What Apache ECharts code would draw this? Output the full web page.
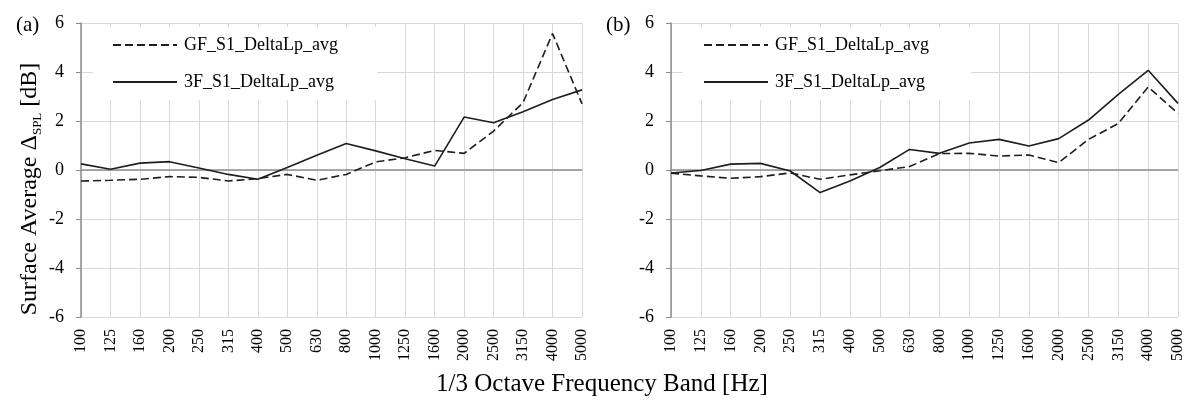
<!DOCTYPE html>
<html>
<head>
<meta charset="utf-8">
<script src="https://cdn.jsdelivr.net/npm/echarts@6/dist/echarts.min.js"></script>
<style>
  html, body { margin: 0; padding: 0; background: #fff; }
  #chart { width: 1197px; height: 402px; }
</style>
</head>
<body>
<div id="chart"></div>
<script>
// 1/3 octave bands
const bands = ["100", "125", "160", "200", "250", "315", "400", "500", "630", "800",
  "1000", "1250", "1600", "2000", "2500", "3150", "4000", "5000"];

// (a)
const aGF = [-0.45, -0.42, -0.38, -0.27, -0.3, -0.45, -0.35, -0.18, -0.42, -0.18,
  0.33, 0.5, 0.8, 0.68, 1.59, 2.75, 5.57, 2.7];
const a3F = [0.25, 0.03, 0.28, 0.34, 0.08, -0.18, -0.38, 0.1, 0.6, 1.08,
  0.78, 0.46, 0.16, 2.16, 1.93, 2.38, 2.88, 3.27];

// (b)
const bGF = [-0.13, -0.24, -0.34, -0.27, -0.12, -0.38, -0.2, -0.03, 0.14, 0.67,
  0.68, 0.57, 0.61, 0.3, 1.25, 1.9, 3.39, 2.31];
const b3F = [-0.12, -0.02, 0.24, 0.27, -0.04, -0.92, -0.45, 0.1, 0.84, 0.68,
  1.1, 1.25, 0.98, 1.28, 2.04, 3.09, 4.07, 2.72];

const seriesNames = ["GF_S1_DeltaLp_avg", "3F_S1_DeltaLp_avg"];
const yTicks = { min: -6, max: 6, interval: 2 };

const FONT = "Liberation Serif";
const INK = "#1e1e1e";
const GRIDC = "#d9d9d9";
const AXISC = "#8c8c8c";

let chart = echarts.init(document.getElementById("chart"));

function makeX(idx) {
  return {
    type: "category",
    gridIndex: idx,
    data: bands,
    boundaryGap: false,
    axisLine: { show: false },
    axisTick: { show: false },
    splitLine: { show: true, interval: 0, lineStyle: { color: GRIDC, width: 1 } },
    axisLabel: {
      interval: 0, rotate: 90, margin: 12,
      fontFamily: FONT, fontSize: 16, color: "#000",
    },
  };
}

function makeY(idx) {
  return {
    type: "value",
    gridIndex: idx,
    min: yTicks.min, max: yTicks.max, interval: yTicks.interval,
    axisLine: { show: true, lineStyle: { color: AXISC, width: 1.5 } },
    axisTick: { show: true, length: 5, lineStyle: { color: AXISC, width: 1 } },
    splitLine: { show: true, lineStyle: { color: GRIDC, width: 1 } },
    axisLabel: { margin: 17, fontFamily: FONT, fontSize: 18, color: "#000" },
  };
}

function makeLine(name, data, idx, dashed, withZero) {
  let s = {
    name: name,
    type: "line",
    xAxisIndex: idx,
    yAxisIndex: idx,
    data: data,
    symbol: "none",
    animation: false,
    lineStyle: { color: INK, width: 1.6, type: dashed ? [8, 4] : "solid" },
    itemStyle: { color: INK },
    z: 3,
  };
  if (withZero) {
    s.markLine = {
      silent: true,
      symbol: "none",
      label: { show: false },
      lineStyle: { color: AXISC, width: 1.5, type: "solid" },
      data: [{ yAxis: 0 }],
      z: 2,
    };
  }
  return s;
}

function makeLegend(left) {
  return {
    data: seriesNames,
    orient: "vertical",
    left: left,
    top: 35,
    padding: 0,
    itemWidth: 64,
    itemHeight: 14,
    itemGap: 17,
    selectedMode: false,
    itemStyle: { opacity: 0 },
    textStyle: { fontFamily: FONT, fontSize: 18, color: "#000", lineHeight: 20, padding: [0, 0, 0, 2] },
  };
}

function whiteBox(x, w) {
  return { type: "rect", z: 1, shape: { x: x, y: 27, width: w, height: 73 }, style: { fill: "#fff" } };
}

function panelTag(x, t) {
  return {
    type: "text", x: x, y: 25, z: 5,
    style: { text: t, fontFamily: FONT, fontSize: 21, fill: "#000", verticalAlign: "middle" },
  };
}

let option = {
  backgroundColor: "#fff",
  animation: false,
  grid: [
    { left: 81, top: 23, width: 501, height: 294 },
    { left: 671, top: 23, width: 507, height: 294 },
  ],
  xAxis: [makeX(0), makeX(1)],
  yAxis: [makeY(0), makeY(1)],
  legend: [makeLegend(112), makeLegend(703)],
  series: [
    makeLine(seriesNames[0], aGF, 0, true, true),
    makeLine(seriesNames[1], a3F, 0, false, false),
    makeLine(seriesNames[0], bGF, 1, true, true),
    makeLine(seriesNames[1], b3F, 1, false, false),
  ],
  graphic: [
    whiteBox(93, 284),
    whiteBox(683, 288),
    panelTag(16, "(a)"),
    panelTag(606, "(b)"),
    {
      type: "text", x: 30, y: 189, rotation: Math.PI / 2, z: 5,
      style: {
        text: "{n|Surface Average Δ}{s|SPL}{n| [dB]}",
        align: "center", verticalAlign: "middle",
        rich: {
          n: { fontFamily: FONT, fontSize: 24, fill: "#000", lineHeight: 28 },
          s: { fontFamily: FONT, fontSize: 13, fill: "#000", lineHeight: 28, verticalAlign: "bottom", padding: [8, 0, 0, 0] },
        },
      },
    },
    {
      type: "text", x: 602, y: 384, z: 5,
      style: {
        text: "1/3 Octave Frequency Band [Hz]",
        fontFamily: FONT, fontSize: 25, fill: "#000",
        align: "center", verticalAlign: "middle",
      },
    },
  ],
};

chart.setOption(option);
</script>
</body>
</html>
